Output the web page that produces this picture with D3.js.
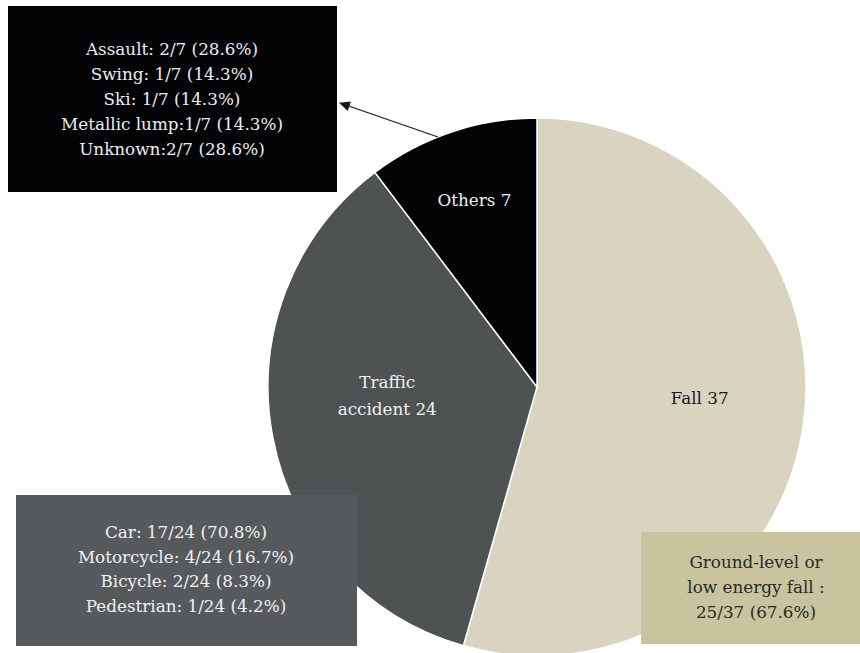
<!DOCTYPE html>
<html><head><meta charset="utf-8">
<script src="https://cdn.jsdelivr.net/npm/d3@7"></script>
<style>body{margin:0;background:#fff}svg{display:block}</style>
</head><body><svg id="c" width="860" height="653"></svg>
<script>
const categories = ["Fall", "Traffic accident", "Others"];
const values = [37, 24, 7];
const sliceLabels = [["Fall 37"], ["Traffic", "accident 24"], ["Others 7"]];
const othersDetail = ["Assault: 2/7 (28.6%)", "Swing: 1/7 (14.3%)", "Ski: 1/7 (14.3%)", "Metallic lump:1/7 (14.3%)", "Unknown:2/7 (28.6%)"];
const trafficDetail = ["Car: 17/24 (70.8%)", "Motorcycle: 4/24 (16.7%)", "Bicycle: 2/24 (8.3%)", "Pedestrian: 1/24 (4.2%)"];
const fallDetail = ["Ground-level or", "low energy fall :", "25/37 (67.6%)"];

const FONT = "'DejaVu Serif', serif";
const FS = 16.8;
const colors = ["#d8d4bf", "#4f5253", "#030406"];
const svg = d3.select("#c");
const cx = 537, cy = 387, R = 269;
const g = svg.append("g").attr("transform", `translate(${cx},${cy})`);
const pie = d3.pie().sort(null).value(d => d)(values);
const arc = d3.arc().innerRadius(0).outerRadius(R);
g.selectAll("path").data(pie).join("path")
  .attr("d", arc).attr("fill", (d, i) => colors[i])
  .attr("stroke", "#fff").attr("stroke-width", 1.5);

const labelPos = [{da: -0.07, r: 163}, {da: 0.13, r: 150}, {da: 0, r: 197}];
pie.forEach((d, i) => {
  const a = (d.startAngle + d.endAngle) / 2 + labelPos[i].da;
  const x = Math.sin(a) * labelPos[i].r, y = -Math.cos(a) * labelPos[i].r;
  const lines = sliceLabels[i];
  const t = g.append("text").attr("text-anchor", "middle").attr("font-size", FS)
    .style("font-family", FONT)
    .attr("fill", i === 0 ? "#1a1a1a" : "#f0f0f0");
  lines.forEach((l, j) => t.append("tspan").attr("x", x)
    .attr("y", y + (j - (lines.length - 1) / 2) * 27 + 6).text(l));
});

function box(x, y, w, h, fill, textFill, lines, tx, ty0, lh) {
  svg.append("rect").attr("x", x).attr("y", y).attr("width", w).attr("height", h).attr("fill", fill);
  const t = svg.append("text").attr("text-anchor", "middle").attr("font-size", FS)
    .style("font-family", FONT).attr("fill", textFill);
  lines.forEach((l, j) => t.append("tspan").attr("x", tx).attr("y", ty0 + j * lh).text(l));
}
box(8, 6, 329, 186, "#030306", "#ececec", othersDetail, 172, 55, 25.1);
box(16, 495, 341, 151, "#575a5d", "#f0f0f0", trafficDetail, 186, 538, 24.7);
box(641, 532, 219, 112, "#c9c49d", "#2a2a28", fallDetail, 756, 568, 25);

svg.append("defs").append("marker").attr("id", "ah").attr("viewBox", "0 0 10 10")
  .attr("refX", 9).attr("refY", 5).attr("markerWidth", 11).attr("markerHeight", 11)
  .attr("markerUnits", "userSpaceOnUse")
  .attr("orient", "auto").append("path").attr("d", "M0,0.5L10,5L0,9.5z").attr("fill", "#1a1a1a");
svg.append("line").attr("x1", 438).attr("y1", 137).attr("x2", 340).attr("y2", 103)
  .attr("stroke", "#1a1a1a").attr("stroke-width", 1.3).attr("marker-end", "url(#ah)");
</script></body></html>
